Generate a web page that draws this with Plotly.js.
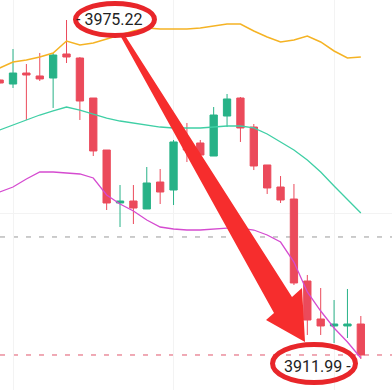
<!DOCTYPE html>
<html>
<head>
<meta charset="utf-8">
<script src="https://cdn.plot.ly/plotly-3.0.1.min.js"></script>
<style>
  html, body { margin: 0; padding: 0; background: #fff; }
  #chart { width: 392px; height: 390px; }
</style>
</head>
<body>
<div id="chart"></div>
<script>
// Candle index (x positions)
const idx = [0,1,2,3,4,5,6,7,8,9,10,11,12,13,14,15,16,17,18,19,20,21,22,23,24,25,26,27];

// OHLC values
const openV  = [3964.03,3963.28,3965.33,3964.78,3964.40,3968.88,3968.13,3960.67,3950.97,3941.09,3941.46,3939.97,3945.00,3943.51,3952.65,3952.28,3949.85,3957.31,3960.67,3955.26,3948.18,3944.07,3941.83,3926.54,3919.45,3918.15,3918.15,3918.52];
const highV  = [3964.22,3969.81,3967.01,3969.07,3969.07,3975.22,3968.32,3960.67,3950.97,3944.44,3944.44,3947.80,3947.43,3952.84,3956.01,3952.84,3958.99,3961.42,3960.86,3955.82,3948.18,3946.12,3944.63,3927.66,3925.23,3922.99,3925.05,3920.01];
const lowV   = [3963.28,3962.54,3956.57,3963.84,3958.81,3967.20,3956.57,3949.85,3939.78,3936.61,3937.17,3939.97,3940.90,3940.71,3948.73,3949.48,3949.85,3955.26,3952.47,3947.24,3942.77,3941.09,3925.79,3916.47,3916.47,3914.97,3915.91,3911.99];
const closeV = [3963.47,3965.33,3964.96,3964.22,3968.69,3968.32,3960.11,3950.79,3941.09,3941.46,3940.15,3944.82,3943.14,3952.47,3950.97,3950.04,3957.50,3960.49,3955.08,3947.99,3943.89,3941.65,3926.17,3919.26,3918.15,3918.52,3918.52,3912.74];

// Band lines
const upperBand  = [3966.27,3967.39,3967.76,3968.32,3969.07,3971.30,3970.56,3970.93,3971.68,3972.42,3973.17,3973.73,3973.54,3973.54,3973.54,3973.73,3974.10,3974.47,3974.47,3973.17,3972.05,3971.12,3971.49,3972.24,3971.12,3969.44,3968.13,3968.32];
const middleBand = [3954.70,3955.64,3956.57,3957.50,3958.25,3958.99,3958.43,3957.69,3956.94,3956.38,3956.01,3955.64,3955.26,3955.08,3955.08,3955.08,3955.26,3955.45,3955.45,3955.08,3953.96,3952.47,3950.97,3949.11,3946.87,3944.26,3941.65,3939.22];
const lowerBand  = [3943.14,3944.07,3945.56,3946.87,3946.87,3946.68,3946.50,3945.75,3942.58,3940.90,3939.60,3937.92,3936.61,3936.24,3936.05,3936.05,3936.24,3936.42,3936.42,3936.05,3935.12,3933.81,3930.08,3924.49,3920.94,3917.77,3915.16,3912.18];

// Reference levels and labels
const highLabel = "- 3975.22";
const lowLabel = "3911.99 -";
const highPrice = 3975.22;
const lowPrice = 3911.99;
const highIdx = 5;
const lowIdx = 27;
const grayLevel = 3934.75;
const lastPrice = 3912.74;

const green = '#27b287';
const red = '#eb4a5b';

const traces = [
  { type: 'scatter', mode: 'lines', x: idx, y: upperBand, line: { color: '#f5b324', width: 1.5 }, hoverinfo: 'skip' },
  { type: 'scatter', mode: 'lines', x: idx, y: middleBand, line: { color: '#3fcfa5', width: 1.3 }, hoverinfo: 'skip' },
  { type: 'scatter', mode: 'lines', x: idx, y: lowerBand, line: { color: '#d54bd0', width: 1.3 }, hoverinfo: 'skip' },
  {
    type: 'candlestick', x: idx, open: openV, high: highV, low: lowV, close: closeV,
    increasing: { line: { color: green, width: 1 }, fillcolor: green },
    decreasing: { line: { color: red, width: 1 }, fillcolor: red },
    whiskerwidth: 0, hoverinfo: 'skip'
  }
];

const arrowPath = 'M0.3087,0.9051 L0.6990,0.1974 L0.6786,0.1795 L0.7781,0.1231 L0.7704,0.2615 L0.7449,0.2385 L0.3214,0.9051 Z';

const layout = {
  width: 392, height: 390,
  margin: { l: 0, r: 0, t: 0, b: 0, pad: 0 },
  paper_bgcolor: '#ffffff', plot_bgcolor: '#ffffff',
  showlegend: false,
  boxgap: 0.22,
  xaxis: {
    range: [0.028, 29.33], showticklabels: false, ticks: '', zeroline: false, showline: false,
    tickvals: [1, 13, 25], showgrid: true, gridcolor: '#f3f3f3', gridwidth: 1,
    rangeslider: { visible: false }, fixedrange: true
  },
  yaxis: {
    range: [3906.21, 3978.95], showticklabels: false, ticks: '', zeroline: false, showline: false,
    tickvals: [3939.22], showgrid: true, gridcolor: '#f3f3f3', gridwidth: 1, fixedrange: true
  },
  shapes: [
    { type: 'line', xref: 'paper', x0: 0, x1: 1, yref: 'y', y0: grayLevel, y1: grayLevel,
      line: { color: '#9a9a9a', width: 1, dash: '5px,8px' }, layer: 'below' },
    { type: 'line', xref: 'paper', x0: 0, x1: 1, yref: 'y', y0: lastPrice, y1: lastPrice,
      line: { color: '#e0566c', width: 1, dash: '5px,8px' }, layer: 'below' },
    { type: 'path', xref: 'paper', yref: 'paper', path: arrowPath,
      fillcolor: '#f62d2d', line: { width: 0 }, layer: 'above' },
    { type: 'circle', xref: 'paper', yref: 'paper', x0: 0.1926, x1: 0.3941, y0: 0.9090, y1: 0.9910,
      line: { color: '#e8262a', width: 5 }, layer: 'above' },
    { type: 'circle', xref: 'paper', yref: 'paper', x0: 0.6952, x1: 0.9069, y0: 0.0192, y1: 0.1167,
      line: { color: '#e8262a', width: 5 }, layer: 'above' }
  ],
  annotations: [
    { x: highIdx, y: highPrice, xref: 'x', yref: 'y', text: highLabel, showarrow: false,
      xanchor: 'left', yanchor: 'middle', xshift: 7, yshift: 1,
      font: { family: 'Roboto, Arial, sans-serif', size: 16, color: '#222222' } },
    { x: lowIdx, y: lowPrice, xref: 'x', yref: 'y', text: lowLabel, showarrow: false,
      xanchor: 'right', yanchor: 'middle', xshift: -8, yshift: -7,
      font: { family: 'Roboto, Arial, sans-serif', size: 16, color: '#222222' } }
  ]
};

Plotly.newPlot('chart', traces, layout, { staticPlot: true, displayModeBar: false });
</script>
</body>
</html>
